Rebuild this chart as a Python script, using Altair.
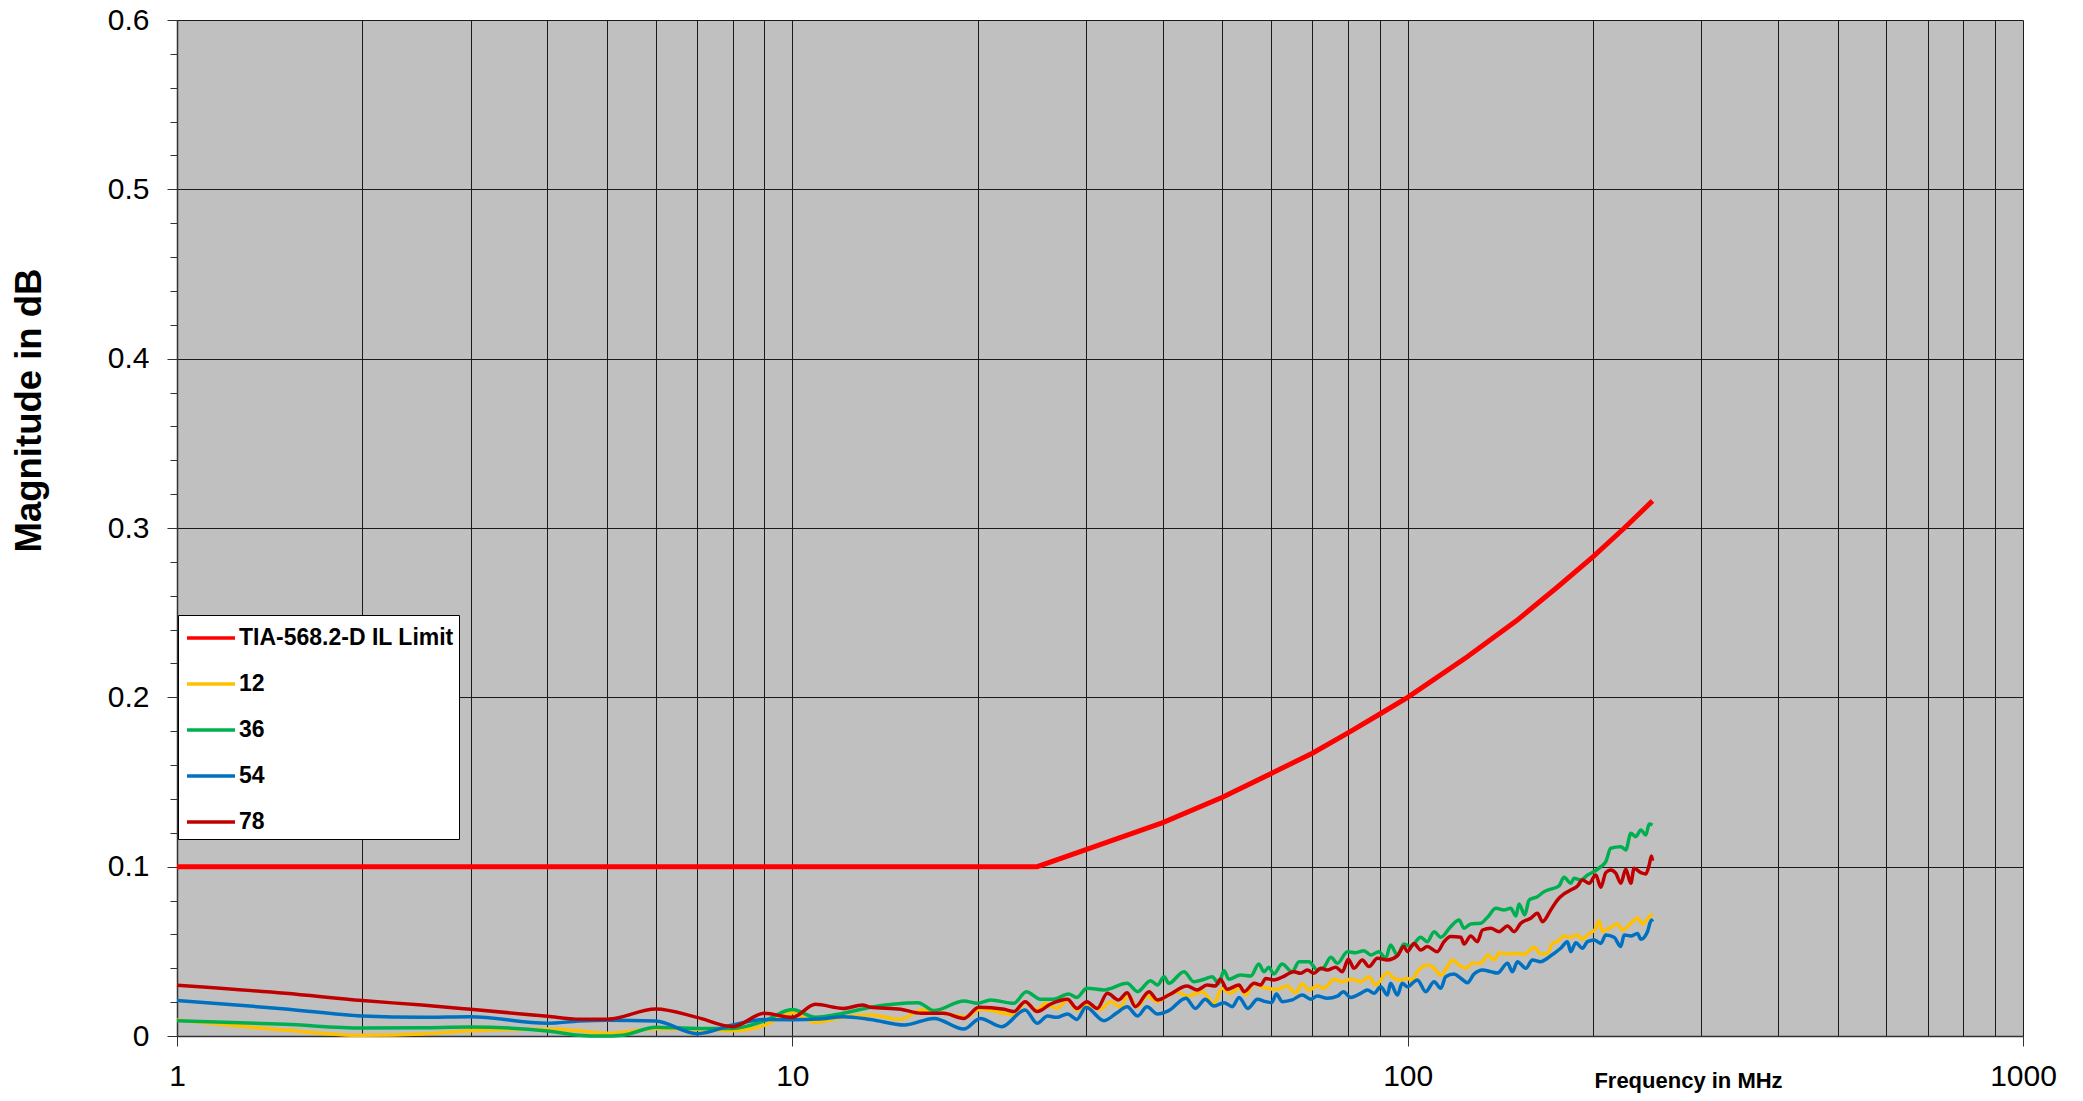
import altair as alt
import pandas as pd

series_names = ["TIA-568.2-D IL Limit", "12", "36", "54", "78"]
series_colors = ["#FF0000", "#FFC000", "#00B050", "#0070C0", "#C00000"]

# (frequency MHz, magnitude dB)
limit_pts = [(1, 0.100), (25, 0.100), (30, 0.110), (40, 0.126), (50, 0.141), (60, 0.155),
             (70, 0.167), (80, 0.179), (90, 0.190), (100, 0.200), (125, 0.224), (150, 0.245),
             (175, 0.265), (200, 0.283), (225, 0.300), (250, 0.316)]

s12 = [(1, 0.0095), (1.5, 0.0035), (2, 0.0004), (2.5, 0.0012), (3, 0.0031), (4, 0.0041), (4.5, 0.0031),
       (5, 0.0016), (6, 0.0043), (7, 0.004), (8, 0.0031), (9, 0.0063), (10, 0.0138), (10.9, 0.0079),
       (12.1, 0.0112), (13.4, 0.0124), (15.0, 0.0098), (16.2, 0.0154), (17.6, 0.0134), (19.2, 0.0114),
       (20.2, 0.0158), (22.1, 0.0134), (22.9, 0.0124), (23.9, 0.0197), (25.0, 0.0154), (25.8, 0.0193),
       (26.9, 0.0163), (28.0, 0.0213), (29.0, 0.0154), (30.1, 0.0183), (31.7, 0.0158), (32.9, 0.0203),
       (34.2, 0.017), (35.0, 0.0242), (36.4, 0.0173), (37.7, 0.0236), (39.2, 0.0203), (40.4, 0.0232),
       (42.2, 0.0262), (43.8, 0.0236), (46.4, 0.0262), (48.4, 0.0193), (49.9, 0.0282), (51.5, 0.0252),
       (53.5, 0.0288), (54.5, 0.0242), (56.3, 0.0311), (57.7, 0.0291), (59.1, 0.0282), (61.4, 0.0276),
       (63.7, 0.0295), (65.7, 0.0256), (67.4, 0.0307), (69.1, 0.0272), (71.3, 0.0295), (73.1, 0.0282),
       (75.9, 0.0335), (78.3, 0.0321), (80.8, 0.0335), (83.9, 0.0321), (86.5, 0.035), (88.7, 0.0301),
       (92.7, 0.0374), (95.0, 0.034), (97.4, 0.0331), (99.9, 0.034), (101.8, 0.0331), (103.7, 0.038),
       (107.6, 0.0419), (110.4, 0.04), (113.2, 0.036), (116.0, 0.041), (118.2, 0.0449), (121.2, 0.0419),
       (124.3, 0.04), (127.4, 0.0429), (131.4, 0.0429), (135.1, 0.0478), (138.2, 0.0449), (140.8, 0.0492),
       (145.3, 0.0484), (149.9, 0.0488), (154.6, 0.0484), (160.5, 0.0524), (164.5, 0.0484), (168.7, 0.0488),
       (171.9, 0.0547), (175.1, 0.0557), (179.5, 0.0591), (184.1, 0.0583), (188.8, 0.0597), (192.3, 0.0571),
       (197.2, 0.0606), (201.4, 0.0626), (204.6, 0.0681), (207.3, 0.0616), (212.5, 0.0636), (219.3, 0.0662),
       (223.4, 0.0626), (230.5, 0.0666), (236.3, 0.0695), (240.8, 0.0662), (245.3, 0.069), (248.4, 0.0715),
       (250.0, 0.0709)]

s36 = [(1, 0.009), (1.5, 0.0069), (2, 0.0047), (2.5, 0.0049), (3, 0.0053), (4, 0.003), (4.5, 0.0005),
       (4.9, 0.0), (5.3, 0.0005), (6, 0.0052), (7, 0.0045), (8, 0.0045), (9, 0.0089), (10, 0.0156),
       (10.9, 0.0111), (12.1, 0.0134), (13.4, 0.017), (16.0, 0.0197), (17.0, 0.015), (19.0, 0.0207),
       (20.0, 0.0193), (21.0, 0.0213), (22.9, 0.0193), (24.0, 0.0262), (25.3, 0.0217), (26.6, 0.0217),
       (28.1, 0.0248), (29.0, 0.0228), (30.1, 0.0282), (32.1, 0.0272), (35.0, 0.0311), (36.4, 0.0262),
       (38.2, 0.0327), (39.2, 0.0301), (40.2, 0.035), (40.9, 0.0311), (43.3, 0.038), (44.9, 0.0321),
       (46.7, 0.0335), (48.1, 0.035), (49.3, 0.0311), (50.3, 0.0386), (51.2, 0.0335), (53.5, 0.036),
       (55.6, 0.0354), (57.3, 0.0425), (58.4, 0.038), (59.5, 0.0406), (60.6, 0.0366), (62.5, 0.0425),
       (64.9, 0.038), (66.6, 0.0439), (69.1, 0.0439), (71.3, 0.039), (73.1, 0.0406), (75.0, 0.0465),
       (76.9, 0.0429), (79.8, 0.0498), (82.3, 0.0492), (84.9, 0.0504), (87.1, 0.0478), (89.8, 0.0498),
       (92.1, 0.0459), (93.8, 0.0537), (96.2, 0.0478), (98.6, 0.0543), (101.1, 0.0528), (105.0, 0.0583),
       (107.6, 0.0557), (110.4, 0.0616), (113.2, 0.0583), (117.5, 0.0646), (121.2, 0.0685), (123.5, 0.0636),
       (126.6, 0.0662), (131.4, 0.0666), (134.8, 0.0701), (139.1, 0.0754), (143.4, 0.0744), (147.1, 0.0754),
       (149.9, 0.0709), (151.7, 0.078), (155.0, 0.0715), (157.5, 0.0803), (162.5, 0.0823), (166.6, 0.0852),
       (170.8, 0.0867), (176.2, 0.0886), (179.5, 0.0937), (184.1, 0.0902), (186.4, 0.0931), (191.1, 0.0921),
       (196.0, 0.0951), (200.9, 0.0971), (206.0, 0.1), (209.9, 0.103), (213.8, 0.1109), (222.0, 0.1118),
       (226.2, 0.1099), (230.5, 0.1197), (234.8, 0.1177), (239.3, 0.1217), (243.8, 0.1187), (246.9, 0.1252),
       (250.0, 0.1246)]

s54 = [(1, 0.021), (1.5, 0.016), (2, 0.0118), (2.5, 0.011), (3, 0.0114), (4, 0.0075), (4.5, 0.0088),
       (5, 0.0093), (6, 0.0088), (7, 0.0014), (8, 0.0065), (9, 0.0097), (10, 0.0096), (11, 0.01),
       (12.1, 0.0114), (13.4, 0.0098), (15.2, 0.0065), (17.0, 0.0104), (19.0, 0.0041), (20.2, 0.0104),
       (21.9, 0.0055), (23.9, 0.0154), (25.0, 0.0075), (26.0, 0.0118), (26.9, 0.011), (28.0, 0.013),
       (29.0, 0.0098), (30.0, 0.017), (32.1, 0.009), (33.7, 0.0138), (35.0, 0.0173), (36.4, 0.0118),
       (37.7, 0.0173), (39.2, 0.013), (40.9, 0.015), (43.6, 0.0223), (45.2, 0.0163), (46.9, 0.0217),
       (48.4, 0.0177), (50.3, 0.0197), (51.9, 0.0173), (53.2, 0.0228), (55.0, 0.0163), (57.0, 0.0217),
       (58.8, 0.0203), (60.1, 0.0197), (61.2, 0.0248), (62.5, 0.0203), (64.9, 0.0213), (67.4, 0.0242),
       (69.6, 0.0217), (71.3, 0.0236), (74.0, 0.0223), (76.9, 0.0236), (78.6, 0.0262), (80.8, 0.0228),
       (83.9, 0.0252), (86.0, 0.0272), (88.2, 0.0252), (90.4, 0.0291), (92.7, 0.0242), (93.8, 0.0311),
       (96.2, 0.0242), (98.0, 0.0311), (99.9, 0.0291), (103.7, 0.0331), (107.0, 0.0262), (110.4, 0.0321),
       (113.2, 0.0282), (115.3, 0.035), (118.9, 0.0366), (122.0, 0.0341), (125.0, 0.0315), (128.2, 0.0366),
       (132.3, 0.039), (136.5, 0.038), (139.9, 0.0372), (145.3, 0.0429), (148.0, 0.038), (150.8, 0.0439),
       (155.6, 0.04), (159.5, 0.0449), (164.5, 0.0439), (168.7, 0.0459), (172.9, 0.0488), (177.3, 0.0518),
       (181.8, 0.0557), (184.1, 0.0498), (187.6, 0.0551), (192.3, 0.0518), (196.0, 0.0557), (200.9, 0.0567),
       (206.0, 0.0547), (209.9, 0.0597), (216.5, 0.0583), (222.0, 0.0528), (224.8, 0.0597), (230.5, 0.0591),
       (236.3, 0.0606), (239.3, 0.0571), (245.3, 0.0616), (249.0, 0.0685), (250.0, 0.0675)]

s78 = [(1, 0.030), (1.5, 0.0252), (2, 0.0209), (2.5, 0.0183), (3, 0.0158), (4, 0.0116), (4.5, 0.0099),
       (5, 0.0099), (6, 0.016), (7, 0.011), (8, 0.0055), (9, 0.0134), (10, 0.011), (10.9, 0.0187),
       (12.1, 0.0163), (13.0, 0.0183), (13.4, 0.017), (15.0, 0.0158), (16.2, 0.0134), (17.6, 0.0134),
       (19.0, 0.0104), (20.1, 0.017), (22.1, 0.0158), (22.9, 0.0144), (23.9, 0.0203), (25.0, 0.0144),
       (26.3, 0.0189), (28.0, 0.0217), (29.0, 0.0163), (30.1, 0.0203), (31.3, 0.0163), (32.5, 0.0252),
       (33.9, 0.0213), (35.0, 0.0256), (36.1, 0.0173), (38.0, 0.0262), (39.2, 0.0213), (40.9, 0.0242),
       (43.8, 0.0295), (45.5, 0.0272), (47.2, 0.0301), (48.7, 0.0295), (49.6, 0.0335), (50.9, 0.0276),
       (53.2, 0.0301), (54.2, 0.0262), (56.3, 0.0311), (57.7, 0.0301), (58.8, 0.034), (60.6, 0.0331),
       (62.5, 0.0347), (65.3, 0.038), (67.0, 0.037), (68.7, 0.039), (70.4, 0.037), (72.2, 0.04),
       (74.0, 0.039), (76.4, 0.0406), (78.3, 0.038), (80.1, 0.0453), (81.8, 0.04), (84.4, 0.0449),
       (86.5, 0.041), (89.3, 0.0459), (92.7, 0.0449), (96.2, 0.0473), (98.6, 0.0528), (99.9, 0.0498),
       (102.4, 0.0547), (105.0, 0.0508), (107.6, 0.0528), (111.7, 0.0498), (114.6, 0.0557), (117.5, 0.0587),
       (122.0, 0.0583), (123.5, 0.0543), (126.6, 0.0591), (129.8, 0.0557), (132.3, 0.0626), (136.5, 0.0636),
       (140.8, 0.0616), (145.3, 0.065), (148.9, 0.0616), (152.7, 0.0666), (158.5, 0.0695), (162.5, 0.0725),
       (165.6, 0.0675), (170.8, 0.0744), (175.1, 0.0803), (179.5, 0.0839), (184.1, 0.0862), (188.8, 0.0886),
       (192.3, 0.0921), (197.2, 0.0902), (202.2, 0.0951), (206.0, 0.0878), (209.9, 0.0965), (213.8, 0.098),
       (217.9, 0.0961), (222.0, 0.0902), (226.2, 0.0985), (230.5, 0.0902), (233.3, 0.099), (239.3, 0.0965),
       (243.8, 0.0957), (246.9, 0.101), (249.0, 0.1063), (250.0, 0.1035)]

x_label_values = [1, 10, 100, 1000]
x_grid_values = [m * 10 ** e for e in range(3) for m in range(1, 10)] + [1000]
y_tick_values = [round(i * 0.02, 2) for i in range(31)]

rows = []
for name, pts in zip(series_names, [limit_pts, s12, s36, s54, s78]):
    for f, v in pts:
        rows.append({"series": name, "freq": f, "mag": v})
df = pd.DataFrame(rows)

FONT = "Liberation Sans"
major_test = "abs(datum.value*10 - round(datum.value*10)) < 0.001"
decade_test = "indexof([1,10,100,1000], datum.value) >= 0"

x_enc = alt.X(
    "freq:Q",
    scale=alt.Scale(type="log", domain=[1, 1000], nice=False),
    axis=alt.Axis(
        values=x_grid_values,
        labelExpr=f"{decade_test} ? format(datum.value, 'd') : ''",
        labelFont=FONT, labelFontSize=30, labelColor="black", labelPadding=15,
        labelFlush=False, labelOverlap=False,
        tickSize=10, tickColor="#333333", tickWidth=1,
        tickOpacity={"condition": {"test": decade_test, "value": 1}, "value": 0},
        domainColor="#333333", domainWidth=1.5,
        grid=True, gridColor="#1a1a1a", gridWidth=1,
        title="Frequency in MHz", titleFont=FONT, titleFontSize=22, titleFontWeight="bold",
        titleColor="black", titleX=1511, titleY=44, titleAlign="center", titleBaseline="middle",
    ),
)
y_enc = alt.Y(
    "mag:Q",
    scale=alt.Scale(domain=[0, 0.6], nice=False, zero=True),
    axis=alt.Axis(
        values=y_tick_values,
        labelExpr=f"{major_test} ? format(datum.value, '.1~f') : ''",
        labelFont=FONT, labelFontSize=30, labelColor="black", labelPadding=18,
        labelOverlap=False,
        tickSize={"condition": {"test": major_test, "value": 10}, "value": 7},
        tickColor="#333333", tickWidth=1,
        domainColor="#333333", domainWidth=1.5,
        grid=True, gridColor="#1a1a1a", gridWidth=1,
        gridOpacity={"condition": {"test": major_test, "value": 1}, "value": 0},
        title="Magnitude in dB", titleFont=FONT, titleFontSize=36.5, titleFontWeight="bold",
        titleColor="black", titleX=-148, titleY=390, titleAngle=270,
        titleAlign="center", titleBaseline="middle",
    ),
)
color_enc = alt.Color(
    "series:N",
    scale=alt.Scale(domain=series_names, range=series_colors),
    legend=alt.Legend(
        title=None, orient="none", legendX=1, legendY=595,
        fillColor="white", strokeColor="black", padding=5,
        symbolType="M-1.5,0H1.5", symbolSize=1024, symbolStrokeWidth=3.5,
        symbolOffset=10, labelOffset=10,
        labelFont=FONT, labelFontSize=23, labelFontWeight="bold", labelColor="black",
        labelLimit=500, rowPadding=16,
    ),
)

base = alt.Chart(df)
limit = base.transform_filter(alt.datum.series == series_names[0]).mark_line(
    strokeWidth=5, interpolate="linear"
).encode(x=x_enc, y=y_enc, color=color_enc)
meas = base.transform_filter(alt.datum.series != series_names[0]).mark_line(
    strokeWidth=3.5, interpolate="monotone"
).encode(x=x_enc, y=y_enc, color=color_enc)

chart = alt.layer(meas, limit).properties(
    width=1846, height=1016,
    autosize=alt.AutoSizeParams(type="none"),
    padding={"left": 169, "top": 12, "right": 52, "bottom": 57},
).configure_view(fill="#C0C0C0", stroke=None)

chart.save("out.html", embed_options={"renderer": "svg", "actions": False})
